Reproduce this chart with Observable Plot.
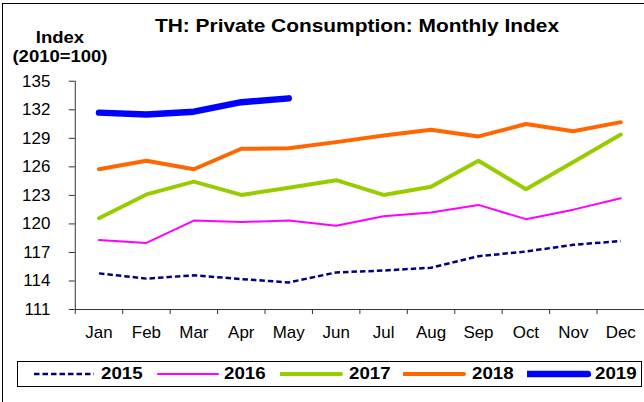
<!DOCTYPE html>
<html>
<head>
<meta charset="utf-8">
<script src="https://cdn.jsdelivr.net/npm/d3@7"></script>
<script src="https://cdn.jsdelivr.net/npm/@observablehq/plot@0.6"></script>
<style>
  html, body { margin: 0; padding: 0; background: #fff; overflow: hidden; }
  body { width: 644px; height: 402px; position: relative; font-family: "Liberation Sans", Arial, sans-serif; }
  #frame { position: absolute; left: 2px; top: 3px; width: 700px; height: 500px; border: 1.5px solid #000; box-sizing: border-box; }
  #chart { position: absolute; left: 0; top: 0; }
  .title { position: absolute; left: 0; width: 714px; top: 15px; text-align: center; font-weight: bold; font-size: 19px; color: #000; transform: scaleX(1.1); transform-origin: 357px 0; white-space: nowrap; }
  .ylab { position: absolute; left: 0; width: 120px; top: 28px; text-align: center; font-weight: bold; font-size: 16.5px; line-height: 19px; transform: scaleX(1.12); transform-origin: 60px 0; }
  #legend { position: absolute; left: 17px; top: 361px; width: 625px; height: 26px; border: 1px solid #000; box-sizing: border-box; }
  .lg-text { position: absolute; top: 2px; font-weight: bold; font-size: 17px; line-height: 20px; transform: scaleX(1.1); transform-origin: 0 0; }
</style>
</head>
<body>
<div id="chart"></div>
<div id="frame"></div>
<div class="title">TH: Private Consumption: Monthly Index</div>
<div class="ylab">Index<br>(2010=100)</div>
<div id="legend"></div>
<script>
const months = ["Jan","Feb","Mar","Apr","May","Jun","Jul","Aug","Sep","Oct","Nov","Dec"];
const years = ["2015","2016","2017","2018","2019"];
const v2015 = [114.8,114.25,114.6,114.2,113.85,114.9,115.1,115.4,116.6,117.1,117.8,118.2];
const v2016 = [118.3,118.0,120.35,120.2,120.35,119.8,120.8,121.2,122.0,120.5,121.5,122.7];
const v2017 = [120.6,123.1,124.45,123.05,123.8,124.6,123.05,123.9,126.65,123.65,126.5,129.4];
const v2018 = [125.75,126.65,125.75,127.9,127.95,128.6,129.3,129.9,129.2,130.5,129.75,130.7];
const v2019 = [131.7,131.5,131.8,132.8,133.2];
const yTicks = [111,114,117,120,123,126,129,132,135];

const seriesValues = [v2015, v2016, v2017, v2018, v2019];
const styles = [
  {stroke: "#000080", strokeWidth: 2.5, strokeDasharray: "5.5,3"},
  {stroke: "#FF00FF", strokeWidth: 2},
  {stroke: "#99CC00", strokeWidth: 4},
  {stroke: "#FF6600", strokeWidth: 4},
  {stroke: "#0000FF", strokeWidth: 6.5}
];

const lineMarks = seriesValues.map((vals, k) =>
  Plot.line(vals, {x: (d, i) => i + 0.5, y: d => d, strokeLinejoin: "round", strokeLinecap: k === 0 ? "butt" : "round", ...styles[k]})
);

const chart = Plot.plot({
  width: 646,
  height: 350,
  marginLeft: 75,
  marginRight: 0,
  marginTop: 81,
  marginBottom: 40,
  style: {background: "transparent", fontFamily: "'Liberation Sans', Arial, sans-serif", color: "#000", overflow: "visible"},
  x: {type: "linear", domain: [0, 12]},
  y: {domain: [111, 135]},
  marks: [
    Plot.axisY(yTicks, {tickSize: 6, tickPadding: 19, fontSize: 17, stroke: "#333", label: null}),
    Plot.axisX(d3.range(13), {tickSize: 5, tickFormat: () => "", stroke: "#333", label: null}),
    Plot.axisX(months.map((m, i) => i + 0.5), {tickSize: 0, tickPadding: 16, fontSize: 17, tickFormat: t => months[Math.floor(t)], label: null}),
    Plot.ruleX([0], {stroke: "#333", strokeWidth: 1}),
    Plot.ruleY([111], {stroke: "#333", strokeWidth: 1}),
    ...lineMarks
  ]
});
document.getElementById("chart").appendChild(chart);

// legend
const legend = document.getElementById("legend");
const lineStarts = [15, 139, 262, 385, 509];
const textStarts = [83, 206, 331, 454, 577];
years.forEach((y, k) => {
  const s = styles[k];
  const svg = d3.create("svg").attr("width", 64).attr("height", 24)
    .style("position", "absolute").style("left", lineStarts[k] + "px").style("top", "0px");
  svg.append("line").attr("x1", 1).attr("x2", 61).attr("y1", 12).attr("y2", 12)
    .attr("stroke", s.stroke).attr("stroke-width", s.strokeWidth)
    .attr("stroke-dasharray", s.strokeDasharray || null)
    .attr("stroke-linecap", k === 0 ? "butt" : "round");
  legend.appendChild(svg.node());
  const t = document.createElement("div");
  t.className = "lg-text";
  t.style.left = textStarts[k] + "px";
  t.textContent = y;
  legend.appendChild(t);
});
</script>
</body>
</html>
